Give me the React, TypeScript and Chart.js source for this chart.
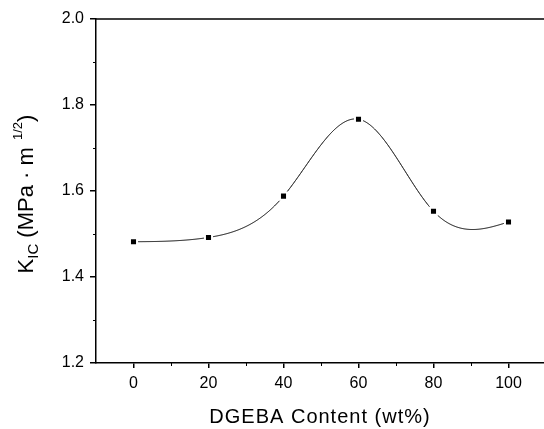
import React, { useEffect, useRef } from "react";
import { Chart, registerables } from "chart.js";

Chart.register(...registerables);

const dgebaContent = [0, 20, 40, 60, 80, 100];
const kicValues = [1.482, 1.492, 1.588, 1.767, 1.553, 1.528];
const xTickValues = [0, 20, 40, 60, 80, 100];
const xMinorTicks = [10, 30, 50, 70, 90];
const yTickValues = [1.2, 1.4, 1.6, 1.8, 2.0];
const yMinorTicks = [1.3, 1.5, 1.7, 1.9];
const xTitle = "DGEBA Content (wt%)";

const FONT = "'Liberation Sans', Arial, Helvetica, sans-serif";

// natural cubic spline second derivatives for rendering the smooth line
function splineSecondDerivs(xs: number[], ys: number[]): number[] {
  const n = xs.length;
  const m = new Array(n).fill(0);
  const u = new Array(n).fill(0);
  for (let i = 1; i < n - 1; i++) {
    const sig = (xs[i] - xs[i - 1]) / (xs[i + 1] - xs[i - 1]);
    const p = sig * m[i - 1] + 2;
    m[i] = (sig - 1) / p;
    const d =
      (ys[i + 1] - ys[i]) / (xs[i + 1] - xs[i]) -
      (ys[i] - ys[i - 1]) / (xs[i] - xs[i - 1]);
    u[i] = ((6 * d) / (xs[i + 1] - xs[i - 1]) - sig * u[i - 1]) / p;
  }
  m[n - 1] = 0;
  for (let k = n - 2; k >= 0; k--) m[k] = m[k] * m[k + 1] + u[k];
  return m;
}

function splineEval(xs: number[], ys: number[], m: number[], x: number) {
  let k = 0;
  while (k < xs.length - 2 && x > xs[k + 1]) k++;
  const h = xs[k + 1] - xs[k];
  const a = (xs[k + 1] - x) / h;
  const b = (x - xs[k]) / h;
  return (
    a * ys[k] +
    b * ys[k + 1] +
    (((a * a * a - a) * m[k] + (b * b * b - b) * m[k + 1]) * h * h) / 6
  );
}

const splinePlugin = {
  id: "splinePlugin",
  beforeDatasetsDraw(chart: any) {
    const { ctx, scales } = chart;
    const xs = scales.x;
    const ys = scales.y;
    const m = splineSecondDerivs(dgebaContent, kicValues);
    const x0 = dgebaContent[0];
    const x1 = dgebaContent[dgebaContent.length - 1];
    const p0 = xs.getPixelForValue(x0);
    const p1 = xs.getPixelForValue(x1);
    ctx.save();
    ctx.strokeStyle = "#000";
    ctx.lineWidth = 1;
    ctx.beginPath();
    for (let px = p0; px <= p1 + 0.01; px += 1) {
      const xv = xs.getValueForPixel(px);
      const yv = splineEval(dgebaContent, kicValues, m, xv);
      const py = ys.getPixelForValue(yv);
      if (px === p0) ctx.moveTo(px, py);
      else ctx.lineTo(px, py);
    }
    ctx.stroke();
    ctx.restore();
  },
};

const framePlugin = {
  id: "framePlugin",
  afterDraw(chart: any) {
    const { ctx, chartArea, scales } = chart;
    const xs = scales.x;
    const ys = scales.y;
    ctx.save();
    ctx.strokeStyle = "#000";
    ctx.lineWidth = 1.5;
    ctx.beginPath();
    ctx.moveTo(chartArea.left, chartArea.top);
    ctx.lineTo(chartArea.right, chartArea.top);
    ctx.stroke();
    ctx.lineWidth = 1;
    yMinorTicks.forEach((v) => {
      const y = Math.round(ys.getPixelForValue(v)) + 0.5;
      ctx.beginPath();
      ctx.moveTo(chartArea.left - 3, y);
      ctx.lineTo(chartArea.left, y);
      ctx.stroke();
    });
    xMinorTicks.forEach((v) => {
      const x = Math.round(xs.getPixelForValue(v)) + 0.5;
      ctx.beginPath();
      ctx.moveTo(x, chartArea.bottom);
      ctx.lineTo(x, chartArea.bottom + 3);
      ctx.stroke();
    });
    ctx.fillStyle = "#000";
    ctx.font = `20px ${FONT}`;
    (ctx as any).letterSpacing = "1px";
    ctx.textAlign = "center";
    ctx.textBaseline = "alphabetic";
    ctx.fillText(xTitle, 320, 423);
    (ctx as any).letterSpacing = "0px";
    const segs = [
      { t: "K", size: 22, dy: 0 },
      { t: "IC", size: 15, dy: 5 },
      { t: " (MPa · m", size: 22, dy: 0 },
      { t: "  1/2", size: 13, dy: -11 },
      { t: ")", size: 22, dy: 0 },
    ];
    let total = 0;
    const widths = segs.map((s) => {
      ctx.font = `${s.size}px ${FONT}`;
      const w = ctx.measureText(s.t).width;
      total += w;
      return w;
    });
    ctx.translate(33, 194);
    ctx.rotate(-Math.PI / 2);
    ctx.textAlign = "left";
    let cx = -total / 2;
    segs.forEach((s, i) => {
      ctx.font = `${s.size}px ${FONT}`;
      ctx.fillText(s.t, cx, s.dy);
      cx += widths[i];
    });
    ctx.restore();
  },
};

export default function App() {
  const canvasRef = useRef<HTMLCanvasElement | null>(null);

  useEffect(() => {
    document.body.style.margin = "0";
    const canvas = canvasRef.current;
    if (!canvas) return;
    const chart = new Chart(canvas, {
      type: "line",
      data: {
        datasets: [
          {
            data: dgebaContent.map((x, i) => ({ x, y: kicValues[i] })),
            showLine: false,
            borderColor: "#000",
            borderWidth: 1,
            pointStyle: "rect",
            pointRadius: 5,
            pointBackgroundColor: "#000",
            pointBorderColor: "#fff",
            pointBorderWidth: 2,
            fill: false,
          },
        ],
      },
      options: {
        responsive: false,
        devicePixelRatio: 1,
        animation: false,
        layout: { padding: { left: 0, top: 19, right: 14, bottom: 0 } },
        plugins: {
          legend: { display: false },
          tooltip: { enabled: false },
        },
        scales: {
          x: {
            type: "linear",
            min: -10,
            max: 110,
            afterBuildTicks: (scale: any) => {
              scale.ticks = xTickValues.map((v) => ({ value: v }));
            },
            afterFit: (scale: any) => {
              scale.height = 66;
            },
            grid: {
              display: true,
              drawOnChartArea: false,
              drawTicks: true,
              tickLength: 5,
              color: "#000",
              lineWidth: 1.5,
            },
            border: { display: true, color: "#000", width: 1.5 },
            ticks: {
              color: "#000",
              font: { family: FONT, size: 16 },
              padding: 6,
              maxRotation: 0,
              callback: (v: any) => String(v),
            },
          },
          y: {
            type: "linear",
            min: 1.2,
            max: 2.0,
            afterBuildTicks: (scale: any) => {
              scale.ticks = yTickValues.map((v) => ({ value: v }));
            },
            afterFit: (scale: any) => {
              scale.width = 96;
            },
            grid: {
              display: true,
              drawOnChartArea: false,
              drawTicks: true,
              tickLength: 6,
              color: "#000",
              lineWidth: 1.5,
            },
            border: { display: true, color: "#000", width: 1.5 },
            ticks: {
              color: "#000",
              font: { family: FONT, size: 16 },
              padding: 6,
              callback: (v: any) => Number(v).toFixed(1),
            },
          },
        },
      },
      plugins: [splinePlugin, framePlugin],
    } as any);
    return () => chart.destroy();
  }, []);

  return (
    <div
      style={{
        position: "absolute",
        left: 0,
        top: 0,
        width: 544,
        height: 429,
        overflow: "hidden",
        background: "#fff",
      }}
    >
      <canvas
        ref={canvasRef}
        width={560}
        height={429}
        style={{ width: 560, height: 429, display: "block" }}
      />
    </div>
  );
}
